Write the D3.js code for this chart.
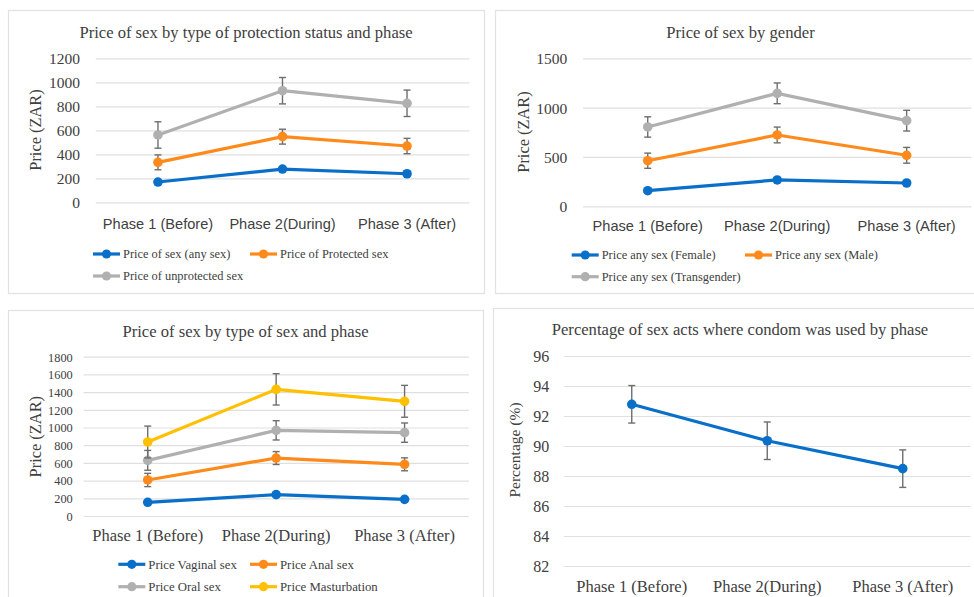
<!DOCTYPE html>
<html>
<head>
<meta charset="utf-8">
<script src="https://cdn.jsdelivr.net/npm/d3@7"></script>
<style>
  html, body { margin: 0; padding: 0; background: #fff; }
  svg { display: block; }
</style>
</head>
<body>
<div id="chart"></div>
<script>
// phases shared by all four panels
const phases = ["Phase 1 (Before)", "Phase 2(During)", "Phase 3 (After)"];

// panel 1 - protection status
const anySex = [169, 277, 238];
const anySexErr = [18, 20, 18];
const protectedSex = [333, 547, 469];
const protectedErr = [62, 62, 64];
const unprotectedSex = [561, 930, 825];
const unprotectedErr = [110, 110, 110];
const ticks1 = [0, 200, 400, 600, 800, 1000, 1200];

// panel 2 - gender
const female = [158, 267, 236];
const femaleErr = [10, 10, 10];
const male = [462, 723, 517];
const maleErr = [77, 80, 80];
const transgender = [804, 1145, 868];
const transErr = [103, 105, 105];
const ticks2 = [0, 500, 1000, 1500];

// panel 3 - type of sex
const vaginal = [155, 241, 188];
const vaginalErr = [8, 8, 8];
const anal = [407, 655, 584];
const analErr = [75, 73, 73];
const oral = [629, 968, 942];
const oralErr = [112, 109, 109];
const masturbation = [836, 1431, 1296];
const mastErr = [180, 177, 180];
const ticks3 = [0, 200, 400, 600, 800, 1000, 1200, 1400, 1600, 1800];

// panel 4 - condom use
const condomPct = [92.78, 90.35, 88.49];
const condomErr = [1.25, 1.25, 1.25];
const ticks4 = [82, 84, 86, 88, 90, 92, 94, 96];

const BLUE = "#0a6fc8", ORANGE = "#ff8a1c", GRAY = "#b0b0b0", YELLOW = "#ffc000";
const SERIF = '"Liberation Serif", "Times New Roman", serif';
const SANS = '"Liberation Sans", Arial, sans-serif';
const INK = "#404040";

const svg = d3.select("#chart").append("svg").attr("width", 974).attr("height", 597);

function drawPanel(p) {
  const g = svg.append("g");

  g.append("rect")
    .attr("x", p.box[0] + 0.5).attr("y", p.box[1] + 0.5)
    .attr("width", p.box[2] - p.box[0]).attr("height", p.box[3] - p.box[1])
    .attr("fill", "#fff").attr("stroke", "#e2e2e2").attr("stroke-width", 1.2);

  g.append("text")
    .attr("x", (p.box[0] + p.box[2]) / 2).attr("y", p.titleY)
    .attr("dy", "0.35em").attr("text-anchor", "middle").attr("fill", INK)
    .style("font-family", SERIF).style("font-size", p.titleSize + "px").text(p.title);

  const x = d3.scaleBand().domain(phases).range([p.x0, p.x1]);
  const y = d3.scaleLinear().domain([p.ticks[0], p.ticks[p.ticks.length - 1]]).range([p.y1, p.y0]);
  const cx = d => x(d) + x.bandwidth() / 2;

  const yAxis = g.append("g").attr("transform", `translate(${p.x0},0)`)
    .call(d3.axisLeft(y).tickValues(p.ticks).tickSize(-(p.x1 - p.x0)).tickPadding(p.tickPad).tickFormat(d3.format("d")));
  yAxis.attr("font-family", null).attr("font-size", null);
  yAxis.select(".domain").remove();
  yAxis.selectAll(".tick line").attr("stroke", "#e0e0e0").attr("stroke-width", 1.2);
  yAxis.selectAll(".tick text").attr("fill", INK).attr("dy", "0.35em")
    .style("font-family", SERIF).style("font-size", p.tickSize + "px");

  const xAxis = g.append("g").attr("transform", `translate(0,${p.catY})`)
    .call(d3.axisBottom(x).tickSize(0).tickPadding(0));
  xAxis.attr("font-family", null).attr("font-size", null);
  xAxis.select(".domain").remove();
  xAxis.selectAll(".tick text").attr("fill", INK)
    .attr("y", 0).attr("dy", "0.35em")
    .style("font-family", p.catFont === "sans" ? SANS : SERIF).style("font-size", p.catSize + "px");

  g.append("text")
    .attr("transform", `translate(${p.ylabX},${p.ylabY}) rotate(-90)`)
    .attr("dy", "0.35em").attr("text-anchor", "middle").attr("fill", INK)
    .style("font-family", SERIF).style("font-size", p.ylabSize + "px").text(p.ylab);

  const line = d3.line().x((d, i) => cx(phases[i])).y(d => y(d));

  p.series.forEach(s => {
    const sg = g.append("g");
    sg.append("path").datum(s.values).attr("d", line)
      .attr("fill", "none").attr("stroke", s.color).attr("stroke-width", 3.2)
      .attr("stroke-linejoin", "round");

    // error bars
    const eb = sg.selectAll(".eb").data(s.values).enter().append("g").attr("class", "eb");
    eb.append("line")
      .attr("x1", (d, i) => cx(phases[i])).attr("x2", (d, i) => cx(phases[i]))
      .attr("y1", (d, i) => y(d + s.err[i])).attr("y2", (d, i) => y(d - s.err[i]))
      .attr("stroke", "#6e6e6e").attr("stroke-width", 1.4);
    [1, -1].forEach(sign => {
      eb.append("line")
        .attr("x1", (d, i) => cx(phases[i]) - 3.5).attr("x2", (d, i) => cx(phases[i]) + 3.5)
        .attr("y1", (d, i) => y(d + sign * s.err[i])).attr("y2", (d, i) => y(d + sign * s.err[i]))
        .attr("stroke", "#6e6e6e").attr("stroke-width", 1.4);
    });

    sg.selectAll("circle").data(s.values).enter().append("circle")
      .attr("cx", (d, i) => cx(phases[i])).attr("cy", d => y(d))
      .attr("r", 4.8).attr("fill", s.color);
  });

  // legend
  (p.legend || []).forEach(item => {
    const s = p.series[item.i];
    const lx = p.legCols[item.col], ly = p.legRows[item.row];
    g.append("line").attr("x1", lx).attr("x2", lx + 27).attr("y1", ly).attr("y2", ly)
      .attr("stroke", s.color).attr("stroke-width", 3.2);
    g.append("circle").attr("cx", lx + 13.5).attr("cy", ly).attr("r", 4.6).attr("fill", s.color);
    g.append("text").attr("x", lx + 30).attr("y", ly).attr("fill", INK)
      .attr("dy", "0.35em").style("font-family", SERIF).style("font-size", p.legSize + "px").text(s.name);
  });
}

drawPanel({
  box: [8, 10, 484, 293],
  title: "Price of sex by type of protection status and phase", titleY: 32, titleSize: 16.6,
  x0: 95.7, x1: 469.3, y0: 58.3, y1: 202.3, ticks: ticks1, tickPad: 15.7, tickSize: 15.5,
  catY: 224, catFont: "sans", catSize: 14.6,
  ylab: "Price (ZAR)", ylabX: 35, ylabY: 130, ylabSize: 16.4,
  series: [
    { name: "Price of sex (any sex)", values: anySex, err: anySexErr, color: BLUE },
    { name: "Price of Protected sex", values: protectedSex, err: protectedErr, color: ORANGE },
    { name: "Price of unprotected sex", values: unprotectedSex, err: unprotectedErr, color: GRAY }
  ],
  legCols: [93, 250], legRows: [254, 276], legSize: 12.4,
  legend: [{ i: 0, col: 0, row: 0 }, { i: 1, col: 1, row: 0 }, { i: 2, col: 0, row: 1 }]
});

drawPanel({
  box: [495, 10, 986, 293],
  title: "Price of sex by gender", titleY: 32, titleSize: 16.6,
  x0: 583, x1: 971.4, y0: 58.3, y1: 206.3, ticks: ticks2, tickPad: 15.7, tickSize: 15.5,
  catY: 226, catFont: "sans", catSize: 14.6,
  ylab: "Price (ZAR)", ylabX: 523.3, ylabY: 132, ylabSize: 16.4,
  series: [
    { name: "Price any sex (Female)", values: female, err: femaleErr, color: BLUE },
    { name: "Price any sex (Male)", values: male, err: maleErr, color: ORANGE },
    { name: "Price any sex (Transgender)", values: transgender, err: transErr, color: GRAY }
  ],
  legCols: [571.7, 745], legRows: [255, 276.7], legSize: 12.4,
  legend: [{ i: 0, col: 0, row: 0 }, { i: 1, col: 1, row: 0 }, { i: 2, col: 0, row: 1 }]
});

drawPanel({
  box: [8, 310, 483, 620],
  title: "Price of sex by type of sex and phase", titleY: 331, titleSize: 16.6,
  x0: 83.5, x1: 468.8, y0: 356.7, y1: 516, ticks: ticks3, tickPad: 10.8, tickSize: 12.3,
  catY: 535.7, catFont: "serif", catSize: 16.5,
  ylab: "Price (ZAR)", ylabX: 35, ylabY: 436.7, ylabSize: 16.4,
  series: [
    { name: "Price Vaginal sex", values: vaginal, err: vaginalErr, color: BLUE },
    { name: "Price Anal sex", values: anal, err: analErr, color: ORANGE },
    { name: "Price Oral sex", values: oral, err: oralErr, color: GRAY },
    { name: "Price Masturbation", values: masturbation, err: mastErr, color: YELLOW }
  ],
  legCols: [118.3, 250], legRows: [564.3, 586.7], legSize: 12.8,
  legend: [{ i: 0, col: 0, row: 0 }, { i: 1, col: 1, row: 0 }, { i: 2, col: 0, row: 1 }, { i: 3, col: 1, row: 1 }]
});

drawPanel({
  box: [493, 308, 987, 620],
  title: "Percentage of sex acts where condom was used by phase", titleY: 329, titleSize: 16.6,
  x0: 564, x1: 970.5, y0: 356, y1: 566, ticks: ticks4, tickPad: 14.7, tickSize: 16,
  catY: 586, catFont: "serif", catSize: 16.5,
  ylab: "Percentage (%)", ylabX: 515, ylabY: 450, ylabSize: 15.5,
  series: [
    { name: "Condom use", values: condomPct, err: condomErr, color: BLUE }
  ]
});
</script>
</body>
</html>
